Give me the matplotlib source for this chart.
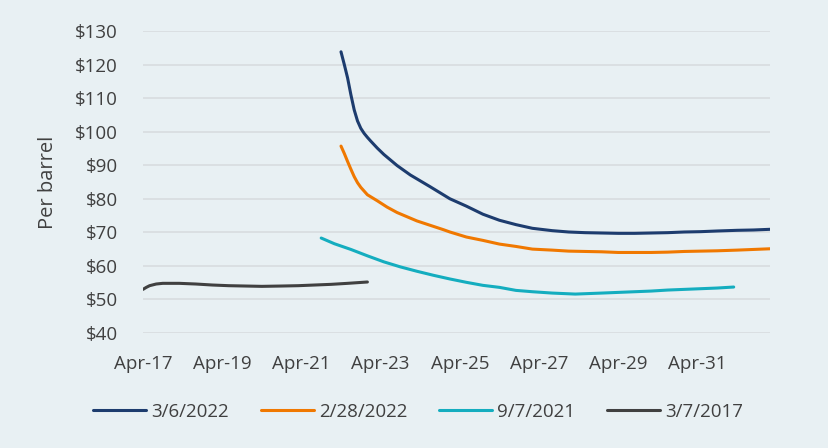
import matplotlib
matplotlib.use("Agg")
import matplotlib.pyplot as plt

# Futures strip curves, months counted from Apr 2017
months_0306_2022 = [60, 61, 62, 63, 64, 65, 66, 67, 68, 69, 71, 73, 77, 81, 87, 93, 98,
                    103, 108, 113, 118, 124, 129, 134, 139, 144, 149, 154, 159, 164, 169,
                    174, 180, 185, 190]
price_0306_2022 = [123.8, 120.0, 116.0, 111.0, 106.5, 103.2, 101.0, 99.5, 98.3, 97.2, 95.1,
                   93.2, 89.9, 87.1, 83.6, 80.0, 77.8, 75.4, 73.6, 72.3, 71.2, 70.5, 70.1,
                   69.9, 69.8, 69.7, 69.7, 69.8, 69.9, 70.1, 70.2, 70.4, 70.6, 70.7, 70.9]

months_0228_2022 = [60, 61, 62, 63, 64, 65, 66, 68, 71, 74, 77, 83, 91, 93, 98, 103, 108,
                    113, 118, 124, 129, 134, 139, 144, 149, 154, 159, 164, 169, 174, 180,
                    185, 190]
price_0228_2022 = [95.7, 93.5, 91.1, 88.8, 86.6, 84.8, 83.4, 81.2, 79.4, 77.5, 75.9, 73.4,
                   70.8, 70.1, 68.6, 67.6, 66.5, 65.8, 65.0, 64.7, 64.4, 64.3, 64.2, 64.0,
                   64.0, 64.0, 64.1, 64.3, 64.4, 64.5, 64.7, 64.9, 65.1]

months_0907_2021 = [54, 58, 63, 68, 73, 78, 83, 88, 93, 98, 103, 108, 113, 118, 124, 131,
                    139, 144, 149, 154, 159, 164, 169, 174, 179]
price_0907_2021 = [68.3, 66.6, 64.9, 63.0, 61.2, 59.7, 58.4, 57.2, 56.1, 55.1, 54.2, 53.6,
                   52.7, 52.3, 51.9, 51.6, 51.9, 52.1, 52.3, 52.5, 52.8, 53.0, 53.2, 53.4,
                   53.7]

months_0307_2017 = [0, 1, 2, 4, 6, 11, 16, 21, 26, 31, 36, 42, 47, 52, 57, 62, 68]
price_0307_2017 = [53.0, 53.6, 54.1, 54.6, 54.8, 54.8, 54.6, 54.3, 54.1, 54.0, 53.9, 54.0,
                   54.1, 54.3, 54.5, 54.8, 55.2]

series_labels = ["3/6/2022", "2/28/2022", "9/7/2021", "3/7/2017"]
series_colors = ["#1D3C6E", "#F07800", "#14ADBF", "#404040"]

x_tick_months = [0, 24, 48, 72, 96, 120, 144, 168]
x_tick_labels = ["Apr-17", "Apr-19", "Apr-21", "Apr-23", "Apr-25", "Apr-27", "Apr-29", "Apr-31"]
y_ticks = [40, 50, 60, 70, 80, 90, 100, 110, 120, 130]

BG = "#E8F0F3"
TEXT = "#404040"
plt.rcParams["font.family"] = ["Open Sans", "DejaVu Sans"]

fig = plt.figure(figsize=(8.29, 4.48), dpi=100, facecolor=BG)
ax = fig.add_axes([143 / 829, 1 - 333 / 448, (770 - 143) / 829, (333 - 31) / 448])
ax.set_facecolor(BG)

curves = [
    (months_0306_2022, price_0306_2022),
    (months_0228_2022, price_0228_2022),
    (months_0907_2021, price_0907_2021),
    (months_0307_2017, price_0307_2017),
]
for (xs, ys), lab, col in zip(curves, series_labels, series_colors):
    ax.plot(xs, ys, color=col, lw=2.2, label=lab,
            solid_capstyle="round", solid_joinstyle="round", zorder=3)

ax.set_xlim(0, 190)
ax.set_ylim(40, 130)
ax.set_yticks(y_ticks)
ax.set_yticklabels([f"${v}" for v in y_ticks])
ax.set_xticks(x_tick_months)
ax.set_xticklabels(x_tick_labels)

ax.grid(axis="y", color="#D6DBDE", lw=1.1, zorder=0)
ax.grid(axis="x", visible=False)
for s in ax.spines.values():
    s.set_visible(False)
ax.tick_params(axis="both", length=0, labelsize=13.5, labelcolor=TEXT)
ax.tick_params(axis="y", pad=18)
ax.tick_params(axis="x", pad=16)

ax.set_ylabel("Per barrel", fontsize=14.5, color=TEXT)
ax.yaxis.set_label_coords((48 - 143) / 627, 0.5)
ax.yaxis.label.set_verticalalignment("center")

fig.legend(loc="center", bbox_to_anchor=(418 / 829, 1 - 411.7 / 448), ncol=4,
           frameon=False, fontsize=13.5, labelcolor=TEXT,
           handlelength=2.83, handletextpad=0.27, columnspacing=1.7)

fig.savefig("out.png", dpi=100, facecolor=BG)
